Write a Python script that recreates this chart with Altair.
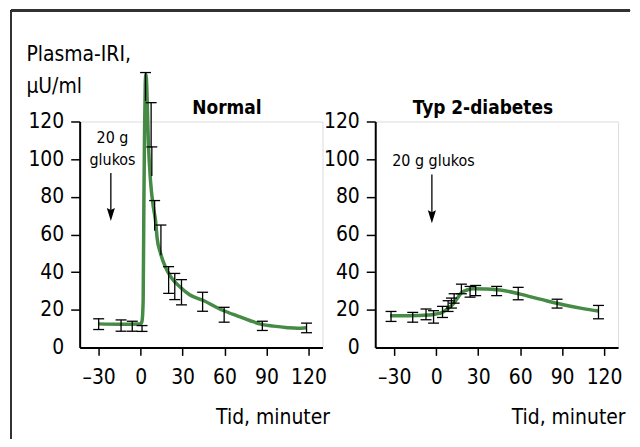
import altair as alt
import pandas as pd

FONT = "Liberation Sans Narrow, Arial Narrow, DejaVu Sans Condensed, Liberation Sans, sans-serif"
GREEN = "#458a45"

# ---------------- data ----------------
x_ticks = [-30, 0, 30, 60, 90, 120]
y_ticks = [0, 20, 40, 60, 80, 100, 120]

# Normal: fitted curve
norm_curve_t = [-30, -15, -2, 0, 1, 1.8, 2.3, 2.8, 3.3, 3.8, 4.4, 5.0, 5.6, 7.1, 9, 10.7,
                11.8, 14.2, 17.8, 22, 28.4, 35, 44.8, 59, 70, 78, 85, 95, 105, 112, 118.5]
norm_curve_v = [12.5, 12.3, 12.4, 12.5, 14, 25, 75, 115, 140, 145, 138, 122, 108, 88, 75, 67,
                58, 50, 42.5, 37, 32, 28, 24.9, 19.6, 16.5, 14.3, 12.5, 11.3, 10.5, 10.2, 10.5]
# Normal: error bars
norm_bar_t = [-30, -14, -6, 1, 3.5, 7.5, 8, 10, 14.5, 20, 24.4, 29.2, 44.3, 59.7, 87, 118.6]
norm_bar_lo = [9.5, 8.6, 8.6, 8.5, 131, 106, 91, 62, 49, 28.7, 25.4, 22.6, 19.2, 13.4, 9, 7.8]
norm_bar_hi = [15.2, 14.6, 13.9, 11.6, 146, 130, 106.5, 78, 65, 42.9, 39.3, 36, 29.3, 21.3, 13.9, 12.9]
norm_bar_lowcap = [1, 1, 1, 1, 0, 0, 0, 0, 0, 1, 1, 1, 1, 1, 1, 1]

# Typ 2-diabetes: fitted curve
diab_curve_t = [-33, -20, -5, 0, 4, 8, 12, 15, 18, 22, 27, 35, 48, 60, 75, 90, 105, 116]
diab_curve_v = [16.8, 16.8, 17.2, 17.8, 18.5, 20.5, 23, 26, 29, 30.5, 31.2, 31, 30.2, 28.3, 25.5, 22.8, 20.6, 19.3]
# Typ 2-diabetes: error bars
diab_bar_t = [-32.3, -16.8, -7.3, -1.9, 4.5, 8.5, 10.9, 12.8, 18, 24.2, 28.2, 43.2, 58.6, 86.4, 116]
diab_bar_lo = [13.8, 13.4, 14.7, 12.9, 15.9, 19.1, 20.9, 23.5, 28.5, 26.7, 27.5, 27.5, 25.3, 20.9, 15.2]
diab_bar_hi = [19.1, 18.6, 20.4, 19.5, 21.8, 24.8, 26.2, 28.5, 33.6, 32.4, 32.9, 32.4, 31.9, 25.6, 22.3]
diab_bar_lowcap = [1] * 15

# annotations (data coordinates)
panel_titles = ["Normal", "Typ 2-diabetes"]
panel_title_t = [61.7, 33.4]
panel_title_v = [127, 127]
note_lines = [["20 g", "glukos"], ["20 g glukos"]]
note_t = [-20.1, -2.0]
note_v = [[111, 99.5], [98.8]]
arrow_t = [-21.3, -3.1]
arrow_top = [92.6, 91.9]
arrow_tip = [71.5, 70.3]

W, H = 244, 227
X_SCALE = alt.Scale(domain=[-43.6, 130], nice=False, zero=False)
Y_SCALE = alt.Scale(domain=[0, 120], nice=False, zero=True)

AX = dict(grid=False, domainColor="black", domainWidth=2, tickColor="black", tickWidth=1.5,
          labelFont=FONT, labelColor="black", labelFontSize=21, labelOverlap=False,
          titleFont=FONT, titleColor="black", titleFontWeight="normal", titleFontSize=21)


def panel(i, ct, cv, bt, blo, bhi, bcap, ytitle):
    curve = pd.DataFrame({"t": ct, "v": cv})
    bars = pd.DataFrame({"t": bt, "lo": blo, "hi": bhi, "cap": bcap})
    xa = alt.Axis(values=x_ticks, title="Tid, minuter", tickSize=8, labelPadding=11,
                  labelExpr="datum.value < 0 ? '\u2013' + abs(datum.value) : datum.label",
                  titleAnchor="end", titleAlign="right", titleX=W + 7, titleY=76,
                  titleBaseline="alphabetic", **AX)
    yargs = dict(values=y_ticks, tickCount=7, tickSize=9, labelPadding=7,
                 tickOpacity={"condition": {"test": "datum.value === 0", "value": 0}, "value": 1},
                 **AX)
    if ytitle:
        ya = alt.Axis(title=["Plasma-IRI,", "\u00b5U/ml"], titleAngle=0, titleAlign="left",
                      titleX=-54, titleY=-61, titleBaseline="alphabetic", titleLineHeight=32, **yargs)
    else:
        ya = alt.Axis(title=None, **yargs)

    line = alt.Chart(curve).mark_line(color=GREEN, strokeWidth=3.5, interpolate="monotone").encode(
        x=alt.X("t:Q", scale=X_SCALE, axis=xa),
        y=alt.Y("v:Q", scale=Y_SCALE, axis=ya),
    )
    xn = alt.X("t:Q", scale=X_SCALE)
    rules = alt.Chart(bars).mark_rule(color="black", strokeWidth=1.3).encode(
        x=xn, y=alt.Y("lo:Q", scale=Y_SCALE), y2="hi:Q")
    caps_hi = alt.Chart(bars).mark_tick(orient="horizontal", color="black", thickness=1.3, size=11,
                                        opacity=1).encode(
        x=xn, y=alt.Y("hi:Q", scale=Y_SCALE))
    caps_lo = alt.Chart(bars).transform_filter("datum.cap == 1").mark_tick(
        orient="horizontal", color="black", thickness=1.3, size=11, opacity=1).encode(
        x=xn, y=alt.Y("lo:Q", scale=Y_SCALE))

    title_df = pd.DataFrame({"t": [panel_title_t[i]], "v": [panel_title_v[i]], "s": [panel_titles[i]]})
    title = alt.Chart(title_df).mark_text(font=FONT, fontSize=19, fontWeight="bold", color="black",
                                          baseline="middle").encode(
        x=xn, y=alt.Y("v:Q", scale=Y_SCALE), text="s:N")
    note_df = pd.DataFrame({"t": [note_t[i]] * len(note_lines[i]), "v": note_v[i], "s": note_lines[i]})
    note = alt.Chart(note_df).mark_text(font=FONT, fontSize=16, color="black", baseline="middle").encode(
        x=xn, y=alt.Y("v:Q", scale=Y_SCALE), text="s:N")
    arr_df = pd.DataFrame({"t": [arrow_t[i]], "top": [arrow_top[i]], "tip": [arrow_tip[i]]})
    arr_line = alt.Chart(arr_df).mark_rule(color="black", strokeWidth=1.3).encode(
        x=xn, y=alt.Y("top:Q", scale=Y_SCALE), y2="tip:Q")
    arr_head = alt.Chart(arr_df).mark_point(
        shape="M0,1L-0.5,-0.6L0,-0.35L0.5,-0.6Z", filled=True, color="black", opacity=1, size=264
    ).encode(x=xn, y=alt.Y("tip:Q", scale=Y_SCALE))

    layers = [line, rules, caps_hi, caps_lo, title, note, arr_line, arr_head]
    if i == 0:
        frame_l = alt.Chart(curve).mark_rule(color="#333333", strokeWidth=1.5).encode(
            x=alt.value(-69), y=alt.value(-111.5), y2=alt.value(319))
        frame_t = alt.Chart(curve).mark_rule(color="#333333", strokeWidth=1.5).encode(
            x=alt.value(-69), x2=alt.value(553), y=alt.value(-111.5))
        layers = [frame_l, frame_t] + layers
    return alt.layer(*layers).properties(width=W, height=H)


left = panel(0, norm_curve_t, norm_curve_v, norm_bar_t, norm_bar_lo, norm_bar_hi, norm_bar_lowcap, True)
right = panel(1, diab_curve_t, diab_curve_v, diab_bar_t, diab_bar_lo, diab_bar_hi, diab_bar_lowcap, False)

chart = alt.hconcat(left, right, spacing=53, bounds="flush").properties(
    padding={"left": 1, "top": 0, "right": 0, "bottom": 0}
).configure_view(strokeWidth=0, stroke="transparent").configure(background="white")

chart.save("out.html", embed_options={"renderer": "svg", "actions": False})
